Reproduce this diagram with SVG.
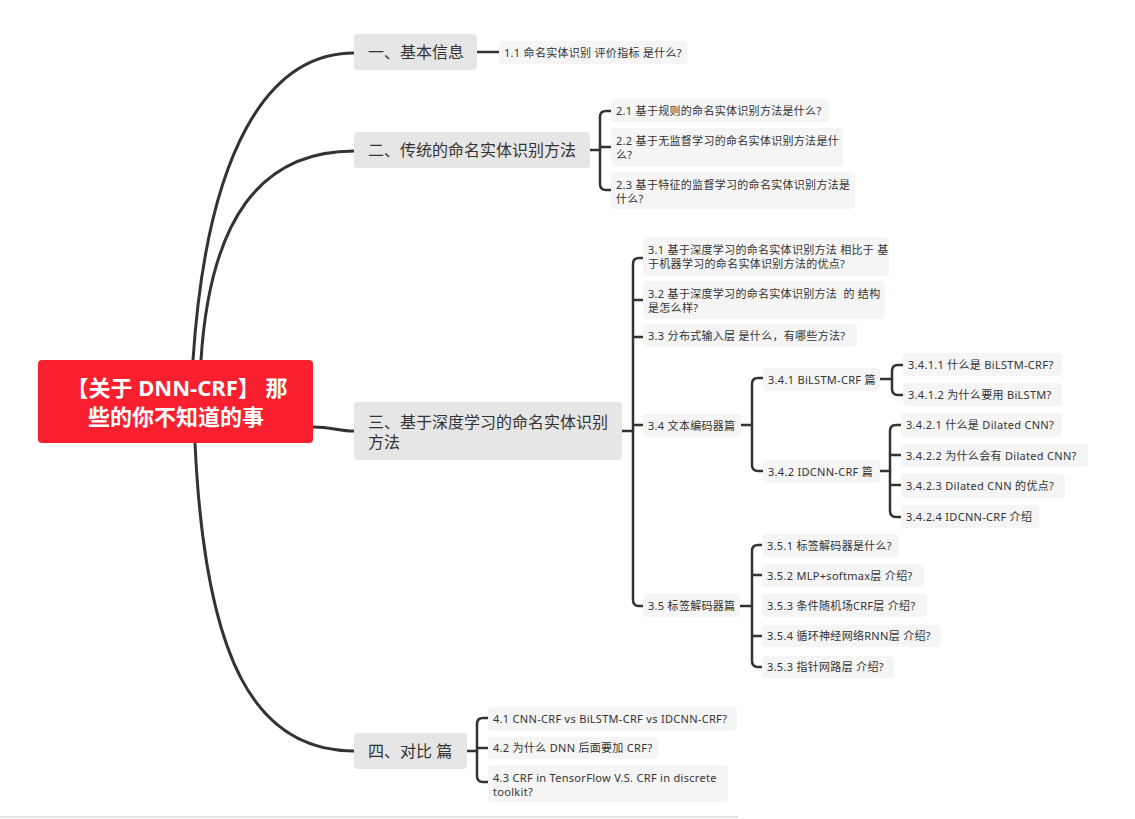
<svg xmlns="http://www.w3.org/2000/svg" width="1135" height="819" viewBox="0 0 1135 819">
<style>
.t{font-family:"Noto Sans","Noto Sans CJK SC",sans-serif;fill:#333}
.s{font-size:11px;letter-spacing:0.3px}
.m{font-size:16px}
.r{font-family:"Noto Sans","Noto Sans CJK SC",sans-serif;font-size:22px;font-weight:bold;fill:#fff}
.b1{fill:#e6e6e6}
.b2{fill:#f5f5f5}
.c{fill:none;stroke:#333;stroke-width:2.5;stroke-linecap:round;stroke-linejoin:round}
.cm{fill:none;stroke:#333;stroke-width:3;stroke-linecap:round}
</style>
<rect x="0" y="0" width="1135" height="819" fill="#fff"/>
<rect x="0" y="816" width="738" height="2" fill="#e2e2e2"/>
<g id="connectors">
<path class="cm" d="M193,360 C207,150 268,53 354,53"/>
<path class="cm" d="M201,360 C210,220 260,151 354,151"/>
<path class="cm" d="M313,427 C333,427 338,431 354,431"/>
<path class="cm" d="M195,443 C205,660 255,751 354,751"/>
<path class="c" d="M477,52 H499"/>
<path class="c" d="M590,150 H600"/>
<path class="c" d="M611,111 H606 Q600,111 600,117 V184 Q600,190 606,190 H611 M600,147 H611"/>
<path class="c" d="M622,431 H633"/>
<path class="c" d="M643,258 H639 Q633,258 633,264 V600 Q633,606 639,606 H643 M633,300 H643 M633,337 H643 M633,425 H643"/>
<path class="c" d="M741,425 H752"/>
<path class="c" d="M763,378 H758 Q752,378 752,384 V465 Q752,471 758,471 H763"/>
<path class="c" d="M880,379 H892"/>
<path class="c" d="M903,365 H898 Q892,365 892,371 V389 Q892,395 898,395 H903"/>
<path class="c" d="M880,471 H890"/>
<path class="c" d="M901,425 H896 Q890,425 890,431 V511 Q890,517 896,517 H901 M890,455 H901 M890,485 H901"/>
<path class="c" d="M740,606 H752"/>
<path class="c" d="M762,545 H758 Q752,545 752,551 V661 Q752,667 758,667 H762 M752,575 H762 M752,636 H762"/>
<path class="c" d="M467,751 H477"/>
<path class="c" d="M488,718 H483 Q477,718 477,724 V776 Q477,782 483,782 H488 M477,748 H488"/>
</g>
<g id="root">
<rect x="38" y="360" width="275" height="83" rx="4" fill="#f81f2f"/>
<text class="r" x="177" y="396" text-anchor="middle">【关于 DNN-CRF】 那</text>
<text class="r" x="176" y="425" text-anchor="middle">些的你不知道的事</text>
</g>
<g id="n1"><rect class="b1" x="354" y="34" width="123" height="36" rx="4"/><text class="t m" x="368" y="58">一、基本信息</text></g>
<g id="n2"><rect class="b1" x="354" y="132" width="236" height="36" rx="4"/><text class="t m" x="368" y="156">二、传统的命名实体识别方法</text></g>
<g id="n3"><rect class="b1" x="354" y="402" width="268" height="58" rx="4"/><text class="t m" x="368" y="428">三、基于深度学习的命名实体识别</text><text class="t m" x="368" y="448">方法</text></g>
<g id="n4"><rect class="b1" x="354" y="733" width="113" height="36" rx="4"/><text class="t m" x="368" y="757">四、对比 篇</text></g>
<g id="n1_1"><rect class="b2" x="499" y="41" width="188" height="23" rx="4"/><text class="t s" x="504" y="56.5">1.1 命名实体识别 评价指标 是什么?</text></g>
<g id="n2_1"><rect class="b2" x="611" y="99" width="218" height="23" rx="4"/><text class="t s" x="616" y="114.5">2.1 基于规则的命名实体识别方法是什么?</text></g>
<g id="n2_2"><rect class="b2" x="611" y="128" width="232" height="38" rx="4"/><text class="t s" x="616" y="145">2.2 基于无监督学习的命名实体识别方法是什</text><text class="t s" x="616" y="159">么?</text></g>
<g id="n2_3"><rect class="b2" x="611" y="172" width="244" height="37" rx="4"/><text class="t s" x="616" y="189">2.3 基于特征的监督学习的命名实体识别方法是</text><text class="t s" x="616" y="203">什么?</text></g>
<g id="n3_1"><rect class="b2" x="643" y="237" width="246" height="39" rx="4"/><text class="t s" x="648" y="254">3.1 基于深度学习的命名实体识别方法 相比于 基</text><text class="t s" x="648" y="268">于机器学习的命名实体识别方法的优点?</text></g>
<g id="n3_2"><rect class="b2" x="643" y="281" width="242" height="38" rx="4"/><text class="t s" x="648" y="298" xml:space="preserve">3.2 基于深度学习的命名实体识别方法  的 结构</text><text class="t s" x="648" y="312">是怎么样?</text></g>
<g id="n3_3"><rect class="b2" x="643" y="324" width="214" height="23" rx="4"/><text class="t s" x="648" y="339.5">3.3 分布式输入层 是什么，有哪些方法?</text></g>
<g id="n3_4"><rect class="b2" x="643" y="414" width="98" height="23" rx="4"/><text class="t s" x="648" y="429.5">3.4 文本编码器篇</text></g>
<g id="n3_5"><rect class="b2" x="643" y="594" width="97" height="23" rx="4"/><text class="t s" x="648" y="609.5">3.5 标签解码器篇</text></g>
<g id="n3_4_1"><rect class="b2" x="763" y="368" width="117" height="23" rx="4"/><text class="t s" x="768" y="383.5">3.4.1 BiLSTM-CRF 篇</text></g>
<g id="n3_4_2"><rect class="b2" x="763" y="460" width="117" height="23" rx="4"/><text class="t s" x="768" y="475.5">3.4.2 IDCNN-CRF 篇</text></g>
<g id="n3_4_1_1"><rect class="b2" x="903" y="353" width="159" height="23" rx="4"/><text class="t s" x="908" y="368.5">3.4.1.1 什么是 BiLSTM-CRF?</text></g>
<g id="n3_4_1_2"><rect class="b2" x="903" y="383" width="159" height="23" rx="4"/><text class="t s" x="908" y="398.5">3.4.1.2 为什么要用 BiLSTM?</text></g>
<g id="n3_4_2_1"><rect class="b2" x="901" y="413" width="161" height="24" rx="4"/><text class="t s" x="906" y="429">3.4.2.1 什么是 Dilated CNN?</text></g>
<g id="n3_4_2_2"><rect class="b2" x="901" y="444" width="187" height="23" rx="4"/><text class="t s" x="906" y="459.5">3.4.2.2 为什么会有 Dilated CNN?</text></g>
<g id="n3_4_2_3"><rect class="b2" x="901" y="474" width="164" height="24" rx="4"/><text class="t s" x="906" y="489.5">3.4.2.3 Dilated CNN 的优点?</text></g>
<g id="n3_4_2_4"><rect class="b2" x="901" y="505" width="138" height="23" rx="4"/><text class="t s" x="906" y="520.5">3.4.2.4 IDCNN-CRF 介绍</text></g>
<g id="n3_5_1"><rect class="b2" x="762" y="534" width="137" height="23" rx="4"/><text class="t s" x="767" y="549.5">3.5.1 标签解码器是什么?</text></g>
<g id="n3_5_2"><rect class="b2" x="762" y="564" width="162" height="23" rx="4"/><text class="t s" x="767" y="579.5">3.5.2 MLP+softmax层 介绍?</text></g>
<g id="n3_5_3"><rect class="b2" x="762" y="594" width="165" height="23" rx="4"/><text class="t s" x="767" y="609.5">3.5.3 条件随机场CRF层 介绍?</text></g>
<g id="n3_5_4"><rect class="b2" x="762" y="625" width="179" height="22" rx="4"/><text class="t s" x="767" y="640">3.5.4 循环神经网络RNN层 介绍?</text></g>
<g id="n3_5_5"><rect class="b2" x="762" y="656" width="132" height="22" rx="4"/><text class="t s" x="767" y="671">3.5.3 指针网路层 介绍?</text></g>
<g id="n4_1"><rect class="b2" x="488" y="707" width="249" height="24" rx="4"/><text class="t s" x="493" y="723">4.1 CNN-CRF vs BiLSTM-CRF vs IDCNN-CRF?</text></g>
<g id="n4_2"><rect class="b2" x="488" y="737" width="170" height="22" rx="4"/><text class="t s" x="493" y="752">4.2 为什么 DNN 后面要加 CRF?</text></g>
<g id="n4_3"><rect class="b2" x="488" y="765" width="240" height="37" rx="4"/><text class="t s" x="493" y="782">4.3 CRF in TensorFlow V.S. CRF in discrete</text><text class="t s" x="493" y="796">toolkit?</text></g>
</svg>
